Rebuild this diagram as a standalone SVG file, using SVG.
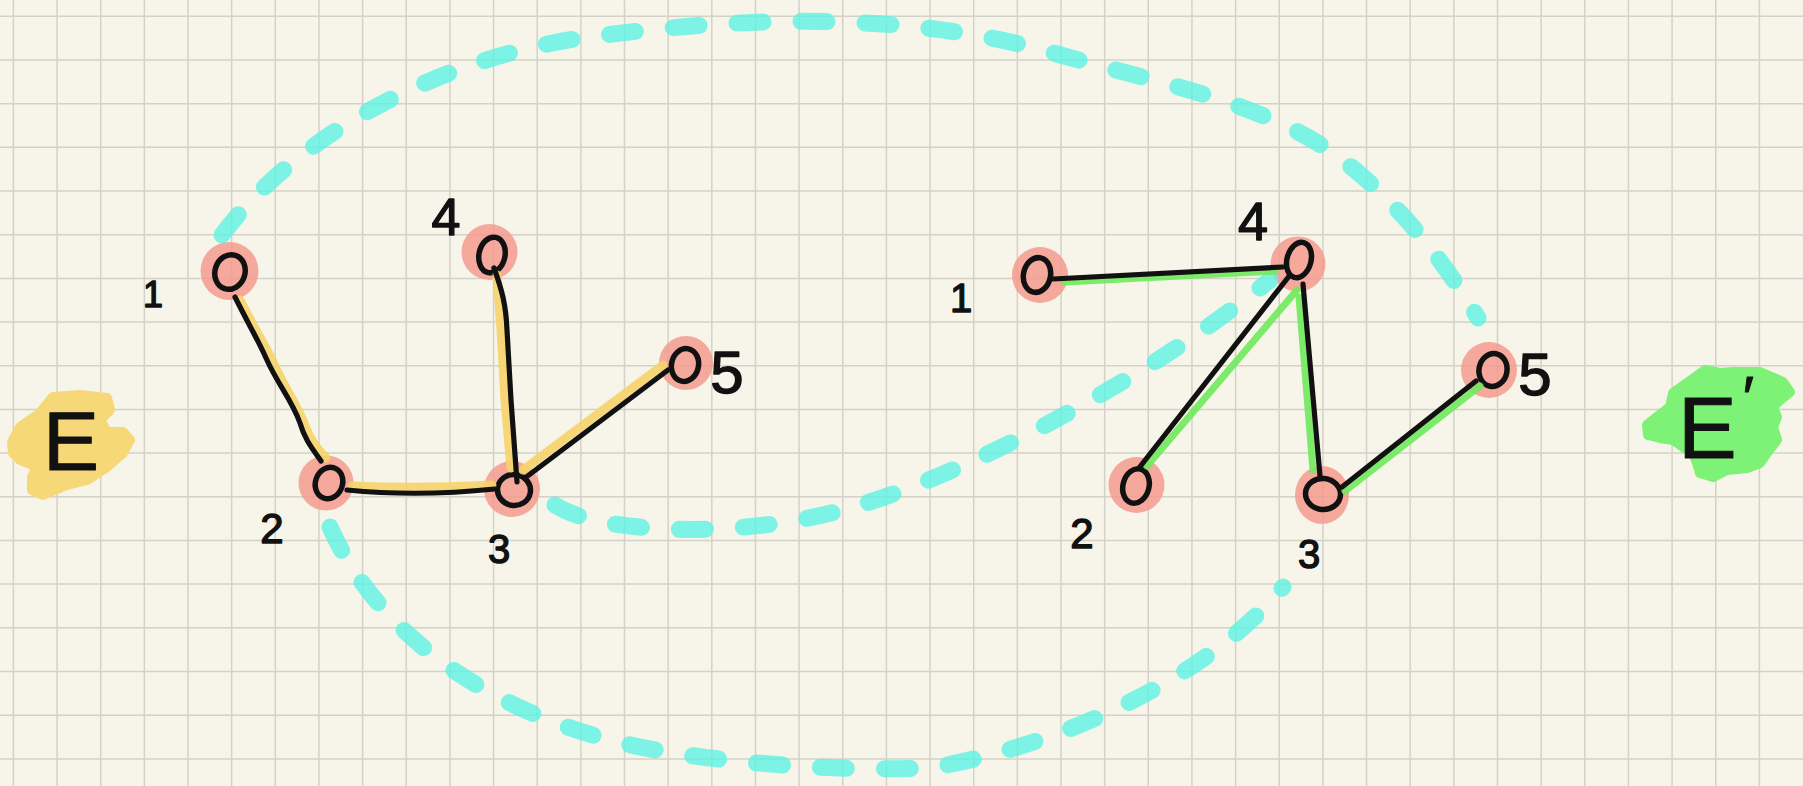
<svg xmlns="http://www.w3.org/2000/svg" width="1803" height="786" viewBox="0 0 1803 786">
<style>
.lbl{font-family:"Liberation Sans",Arial,sans-serif;fill:#111;stroke:#111;stroke-width:1.4;stroke-linejoin:round;text-anchor:middle}
.pink{fill:#F59A8E;fill-opacity:0.85}
.zero{fill:none;stroke:#111;stroke-width:5.5}
.edge{fill:none;stroke:#111;stroke-width:5.2;stroke-linecap:round;stroke-linejoin:round}
.hy{fill:none;stroke:#F6D36A;stroke-opacity:0.9;stroke-width:9;stroke-linecap:round}
.hg{fill:none;stroke:#6FEA5C;stroke-opacity:0.9;stroke-width:7;stroke-linecap:round}
.dash{fill:none;stroke:#5CF2E2;stroke-opacity:0.8;stroke-width:17;stroke-linecap:round;stroke-dasharray:26 38}
.grid{fill:none;stroke:#000;stroke-opacity:0.14;stroke-width:1.5}
</style>
<rect width="1803" height="786" fill="#F7F5E9"/>
<path class="grid" d="M13.4 0V786M57.05 0V786M100.7 0V786M144.35 0V786M188 0V786M231.65 0V786M275.3 0V786M318.95 0V786M362.6 0V786M406.25 0V786M449.9 0V786M493.55 0V786M537.2 0V786M580.85 0V786M624.5 0V786M668.15 0V786M711.8 0V786M755.45 0V786M799.1 0V786M842.75 0V786M886.4 0V786M930.05 0V786M973.7 0V786M1017.35 0V786M1061 0V786M1104.65 0V786M1148.3 0V786M1191.95 0V786M1235.6 0V786M1279.25 0V786M1322.9 0V786M1366.55 0V786M1410.2 0V786M1453.85 0V786M1497.5 0V786M1541.15 0V786M1584.8 0V786M1628.45 0V786M1672.1 0V786M1715.75 0V786M1759.4 0V786M0 16.3H1803M0 60H1803M0 103.7H1803M0 147.3H1803M0 191H1803M0 234.7H1803M0 278.4H1803M0 322.1H1803M0 365.7H1803M0 409.4H1803M0 453.1H1803M0 496.8H1803M0 540.5H1803M0 584.1H1803M0 627.8H1803M0 671.5H1803M0 715.2H1803M0 758.9H1803"/>

<g id="label-E">
<path d="M12 442L20 427L40 413L53 397L80 395L107 398L110 410L100 420L107 432L123 432L130 440L123 453L107 467L87 480L67 485L43 495L32 490L32 477L37 467L20 460L13 453Z" fill="#F6D878" stroke="#F6D878" stroke-width="10" stroke-linejoin="round"/>
<text class="lbl" x="71" y="470" font-size="84" style="stroke-width:1">E</text>
</g>
<g id="label-E-prime">
<path d="M1647 425L1657 417L1670 407L1673 393L1687 383L1705 370L1720 373L1733 372L1760 372L1783 382L1790 392L1780 400L1773 407L1777 417L1773 427L1777 440L1767 453L1760 463L1747 468L1727 470L1713 477L1700 473L1697 463L1693 453L1683 447L1673 440L1660 438L1648 435Z" fill="#7DF276" stroke="#7DF276" stroke-width="10" stroke-linejoin="round"/>
<text class="lbl" x="1716" y="458" font-size="88" style="stroke-width:1">E<tspan font-size="60" dx="6" dy="-40">′</tspan></text>
</g>

<g id="L1"><circle class="pink" cx="229.5" cy="271" r="29"/><ellipse class="zero" cx="230" cy="272" rx="15" ry="17.5" transform="rotate(18 230 272)"/><text class="lbl" x="153" y="307" font-size="36">1</text></g>
<g id="L2"><circle class="pink" cx="326" cy="483" r="27.5"/><ellipse class="zero" cx="329" cy="483" rx="13.5" ry="16" transform="rotate(20 329 483)"/><text class="lbl" x="272" y="543" font-size="42">2</text></g>
<g id="L3"><circle class="pink" cx="512" cy="489" r="28"/><ellipse class="zero" cx="514" cy="490" rx="16.5" ry="15.5" transform="rotate(10 514 490)"/><text class="lbl" x="499" y="563" font-size="40">3</text></g>
<g id="L4"><circle class="pink" cx="489.5" cy="252" r="28"/><ellipse class="zero" cx="492" cy="255" rx="13" ry="18" transform="rotate(12 492 255)"/><text class="lbl" x="446" y="235" font-size="52">4</text></g>
<g id="L5"><circle class="pink" cx="686" cy="363" r="27"/><ellipse class="zero" cx="685" cy="365" rx="13.5" ry="16.5" transform="rotate(12 685 365)"/><text class="lbl" x="727" y="393" font-size="60">5</text></g>

<g id="R1"><circle class="pink" cx="1040" cy="275" r="28"/><ellipse class="zero" cx="1037" cy="275" rx="13.5" ry="17.5" transform="rotate(12 1037 275)"/><text class="lbl" x="961" y="312" font-size="40">1</text></g>
<g id="R2"><circle class="pink" cx="1136.5" cy="485" r="28"/><ellipse class="zero" cx="1136" cy="486" rx="13" ry="17.5" transform="rotate(15 1136 486)"/><text class="lbl" x="1082" y="548" font-size="42">2</text></g>
<g id="R3"><ellipse class="pink" cx="1322" cy="495" rx="27" ry="29"/><ellipse class="zero" cx="1323" cy="494" rx="17.5" ry="15.5" transform="rotate(5 1323 494)"/><text class="lbl" x="1309" y="568" font-size="40">3</text></g>
<g id="R4"><circle class="pink" cx="1298" cy="264" r="27.5"/><ellipse class="zero" cx="1299" cy="260" rx="12" ry="18" transform="rotate(15 1299 260)"/><text class="lbl" x="1253" y="240" font-size="54">4</text></g>
<g id="R5"><circle class="pink" cx="1489" cy="370" r="28"/><ellipse class="zero" cx="1493" cy="370" rx="14" ry="16.5" transform="rotate(10 1493 370)"/><text class="lbl" x="1535" y="395" font-size="60">5</text></g>

<g id="connectors">
<path class="dash" d="M222 235C300 130,450 55,589 37C742 17,907 10,1057 54C1143 79,1256 100,1330 151C1391 194,1439 253,1478 318"/>
<path class="dash" d="M555 505C600 535,750 540,860 505C960 475,1140 385,1270 280"/>
<path class="dash" d="M330 527C385 650,514 721,640 747C740 767,880 772,936 767C1063 744,1206 679,1283 587"/>

<path class="hy" d="M240 300C255 330,265 345,273 362C285 390,298 405,306 428C311 442,318 450,326 458"/>
<path class="hy" d="M352 486Q420 489 492 485"/>
<path class="hy" d="M497 275L501 330L505 400L511 468"/>
<path class="hy" d="M523 470L663 365"/>
<path class="hg" d="M1065 282L1275 271"/>
<path class="hg" d="M1297 290L1147 466"/>
<path class="hg" d="M1299 297L1313 470"/>
<path class="hg" d="M1345 491L1480 386"/>

<path class="edge" d="M235 297C250 327,258 340,266 358C278 385,292 400,300 423C305 440,312 448,321 461"/>
<path class="edge" d="M347 490Q418 497 495 489"/>
<path class="edge" d="M494 268C502 290,506 305,507 330L511 400L517 482"/>
<path class="edge" d="M525 478L668 370"/>
<path class="edge" d="M1053 279L1283 267"/>
<path class="edge" d="M1290 275L1139 468"/>
<path class="edge" d="M1303 284L1320 476"/>
<path class="edge" d="M1342 487L1476 381"/>
</g>
</svg>
